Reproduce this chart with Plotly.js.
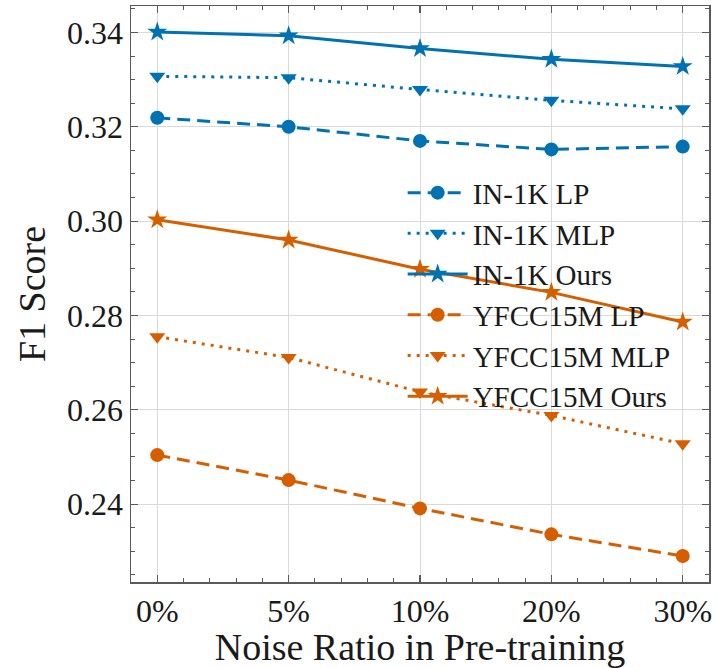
<!DOCTYPE html>
<html>
<head>
<meta charset="utf-8">
<script src="https://cdn.plot.ly/plotly-3.0.1.min.js"></script>
<style>html,body{margin:0;padding:0;background:#fff;}#chart{width:717px;height:668px;}</style>
</head>
<body>
<div id="chart"></div>
<script>
const categories = ['0%', '5%', '10%', '20%', '30%'];
const in1kLP   = [0.3219, 0.3200, 0.3170, 0.3152, 0.3158];
const in1kMLP  = [0.3307, 0.3304, 0.3279, 0.3256, 0.3238];
const in1kOurs = [0.3401, 0.3393, 0.3366, 0.3343, 0.3328];
const yfccLP   = [0.2504, 0.2451, 0.2391, 0.2336, 0.2290];
const yfccMLP  = [0.2755, 0.2711, 0.2638, 0.2588, 0.2528];
const yfccOurs = [0.3003, 0.2960, 0.2898, 0.2849, 0.2786];
const seriesNames = ['IN-1K LP', 'IN-1K MLP', 'IN-1K Ours', 'YFCC15M LP', 'YFCC15M MLP', 'YFCC15M Ours'];

const xIdx = categories.map((_, i) => i);
const BLUE = '#0072B2', ORANGE = '#D55E00';
const DASH = '13px,7px', DOT = '3px,6px';

function tr(name, y, color, dash, symbol, size) {
  return {
    x: xIdx, y: y, name: name, type: 'scatter', mode: 'lines+markers',
    line: {color: color, width: 3, dash: dash},
    marker: {color: color, symbol: symbol, size: size}
  };
}
const data = [
  tr(seriesNames[0], in1kLP, BLUE, DASH, 'circle', 14),
  tr(seriesNames[1], in1kMLP, BLUE, DOT, 'triangle-down', 14),
  tr(seriesNames[2], in1kOurs, BLUE, 'solid', 'star', 15),
  tr(seriesNames[3], yfccLP, ORANGE, DASH, 'circle', 14),
  tr(seriesNames[4], yfccMLP, ORANGE, DOT, 'triangle-down', 14),
  tr(seriesNames[5], yfccOurs, ORANGE, 'solid', 'star', 15)
];

const FONT = 'Liberation Serif, Times New Roman, serif';
const FRAME = '#5a5a5a';
const layout = {
  width: 717, height: 668,
  margin: {l: 131, r: 8, t: 6, b: 86},
  paper_bgcolor: '#fff', plot_bgcolor: '#fff',
  font: {family: FONT, color: '#1a1a1a', size: 32},
  showlegend: true,
  legend: {
    x: 0.47, y: 0.72, xanchor: 'left', yanchor: 'top',
    bgcolor: 'rgba(0,0,0,0)', borderwidth: 0,
    font: {family: FONT, size: 29, color: '#1a1a1a'},
    itemwidth: 60
  },
  xaxis: {
    range: [-0.2, 4.2],
    tickvals: xIdx, ticktext: categories,
    ticks: 'inside', ticklen: 7, tickwidth: 1.2, tickcolor: FRAME,
    showline: true, linecolor: FRAME, linewidth: 1.5, mirror: 'allticks',
    showgrid: true, gridcolor: '#d9d9d9', gridwidth: 1,
    zeroline: false,
    tickfont: {family: FONT, size: 32, color: '#1a1a1a'},
    title: {text: 'Noise Ratio in Pre-training', font: {family: FONT, size: 38, color: '#1a1a1a'}, standoff: 12},
    minor: {dtick: 0.2, tick0: 0, ticks: 'inside', ticklen: 4, tickwidth: 1, tickcolor: FRAME, showgrid: false}
  },
  yaxis: {
    range: [0.2235, 0.3456],
    tickvals: [0.24, 0.26, 0.28, 0.30, 0.32, 0.34],
    tickformat: '.2f',
    ticks: 'inside', ticklen: 7, tickwidth: 1.2, tickcolor: FRAME,
    showline: true, linecolor: FRAME, linewidth: 1.5, mirror: 'allticks',
    showgrid: true, gridcolor: '#d9d9d9', gridwidth: 1,
    zeroline: false,
    tickfont: {family: FONT, size: 32, color: '#1a1a1a'},
    title: {text: 'F1 Score', font: {family: FONT, size: 38, color: '#1a1a1a'}, standoff: 10},
    minor: {dtick: 0.005, tick0: 0, ticks: 'inside', ticklen: 4, tickwidth: 1, tickcolor: FRAME, showgrid: false}
  }
};
Plotly.newPlot('chart', data, layout, {displayModeBar: false, staticPlot: true});
</script>
</body>
</html>
